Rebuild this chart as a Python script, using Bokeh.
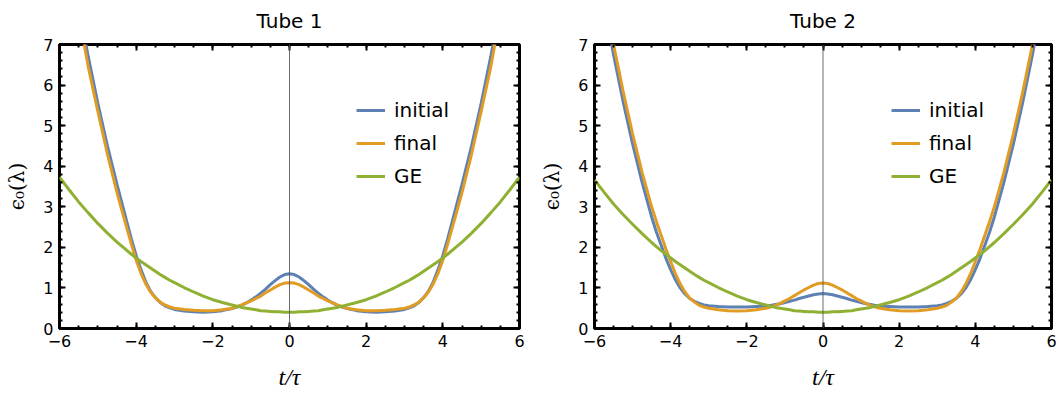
from bokeh.plotting import figure
from bokeh.models import (Span, Legend, LegendItem, FixedTicker, LinearAxis, Range1d,
                          CustomLabelingPolicy)
from bokeh.layouts import row
from bokeh.embed import file_html
from bokeh.resources import INLINE

# time grid t/tau (denser where the curves bend)
t = [-6, -5.75, -5.5, -5.25, -5, -4.75, -4.5, -4.375, -4.25, -4.125, -4, -3.875,
     -3.75, -3.625, -3.5, -3.375, -3.25, -3.125, -3, -2.75, -2.5, -2.25, -2, -1.75,
     -1.5, -1.375, -1.25, -1.125, -1, -0.875, -0.75, -0.625, -0.5, -0.375, -0.25,
     -0.125, 0,
     0.125, 0.25, 0.375, 0.5, 0.625, 0.75, 0.875, 1, 1.125, 1.25, 1.375, 1.5,
     1.75, 2, 2.25, 2.5, 2.75, 3, 3.125, 3.25, 3.375, 3.5, 3.625, 3.75, 3.875,
     4, 4.125, 4.25, 4.375, 4.5, 4.75, 5, 5.25, 5.5, 5.75, 6]

# Tube 1
initial1 = [10.8, 9.3, 7.95, 6.7, 5.55, 4.5, 3.55, 3.1, 2.65, 2.21, 1.8, 1.45,
            1.15, 0.92, 0.76, 0.64, 0.56, 0.51, 0.47, 0.43, 0.41, 0.40, 0.41, 0.44,
            0.49, 0.53, 0.57, 0.63, 0.70, 0.78, 0.87, 0.97, 1.08, 1.18, 1.27,
            1.33, 1.35,
            1.33, 1.27, 1.18, 1.08, 0.97, 0.87, 0.78, 0.70, 0.63, 0.57, 0.53, 0.49,
            0.44, 0.41, 0.40, 0.41, 0.43, 0.47, 0.51, 0.56, 0.64, 0.76, 0.92, 1.15, 1.45,
            1.8, 2.21, 2.65, 3.1, 3.55, 4.5, 5.55, 6.7, 7.95, 9.3, 10.8]
final1 = [10.6, 9.1, 7.75, 6.45, 5.35, 4.3, 3.35, 2.92, 2.5, 2.08, 1.68, 1.36,
          1.1, 0.9, 0.76, 0.65, 0.58, 0.53, 0.50, 0.47, 0.45, 0.44, 0.44, 0.46,
          0.50, 0.54, 0.58, 0.63, 0.68, 0.74, 0.80, 0.88, 0.95, 1.02, 1.08,
          1.12, 1.13,
          1.12, 1.08, 1.02, 0.95, 0.88, 0.80, 0.74, 0.68, 0.63, 0.58, 0.54, 0.50,
          0.46, 0.44, 0.44, 0.45, 0.47, 0.50, 0.53, 0.58, 0.65, 0.76, 0.9, 1.1, 1.36,
          1.68, 2.08, 2.5, 2.92, 3.35, 4.3, 5.35, 6.45, 7.75, 9.1, 10.6]
ge1 = [3.73, 3.42, 3.12, 2.85, 2.59, 2.35, 2.13, 2.03, 1.93, 1.83, 1.74, 1.65,
       1.57, 1.49, 1.41, 1.33, 1.26, 1.19, 1.13, 1.01, 0.90, 0.80, 0.71, 0.64,
       0.58, 0.55, 0.52, 0.50, 0.48, 0.46, 0.44, 0.43, 0.42, 0.41, 0.41,
       0.40, 0.40,
       0.40, 0.41, 0.41, 0.42, 0.43, 0.44, 0.46, 0.48, 0.50, 0.52, 0.55, 0.58,
       0.64, 0.71, 0.80, 0.90, 1.01, 1.13, 1.19, 1.26, 1.33, 1.41, 1.49, 1.57, 1.65,
       1.74, 1.83, 1.93, 2.03, 2.13, 2.35, 2.59, 2.85, 3.12, 3.42, 3.73]

# Tube 2
initial2 = [9.4, 8.0, 6.75, 5.6, 4.55, 3.6, 2.75, 2.38, 2.05, 1.73, 1.45, 1.2,
            1.0, 0.85, 0.74, 0.67, 0.62, 0.58, 0.56, 0.54, 0.53, 0.53, 0.53, 0.54,
            0.55, 0.57, 0.59, 0.61, 0.64, 0.67, 0.70, 0.74, 0.77, 0.80, 0.83,
            0.85, 0.86,
            0.85, 0.83, 0.80, 0.77, 0.74, 0.70, 0.67, 0.64, 0.61, 0.59, 0.57, 0.55,
            0.54, 0.53, 0.53, 0.53, 0.54, 0.56, 0.58, 0.62, 0.67, 0.74, 0.85, 1.0, 1.2,
            1.45, 1.73, 2.05, 2.38, 2.75, 3.6, 4.55, 5.6, 6.75, 8.0, 9.4]
final2 = [9.9, 8.4, 7.0, 5.85, 4.8, 3.85, 3.0, 2.64, 2.3, 1.96, 1.65, 1.35,
          1.1, 0.9, 0.75, 0.65, 0.57, 0.53, 0.50, 0.46, 0.44, 0.43, 0.44, 0.46,
          0.50, 0.53, 0.57, 0.62, 0.68, 0.74, 0.81, 0.88, 0.95, 1.01, 1.07,
          1.11, 1.12,
          1.11, 1.07, 1.01, 0.95, 0.88, 0.81, 0.74, 0.68, 0.62, 0.57, 0.53, 0.50,
          0.46, 0.44, 0.43, 0.44, 0.46, 0.50, 0.53, 0.57, 0.65, 0.75, 0.9, 1.1, 1.35,
          1.65, 1.96, 2.3, 2.64, 3.0, 3.85, 4.8, 5.85, 7.0, 8.4, 9.9]
ge2 = [3.66, 3.36, 3.07, 2.81, 2.57, 2.34, 2.12, 2.02, 1.92, 1.83, 1.74, 1.65,
       1.57, 1.49, 1.41, 1.33, 1.26, 1.19, 1.13, 1.01, 0.90, 0.80, 0.71, 0.64,
       0.58, 0.55, 0.52, 0.50, 0.48, 0.46, 0.44, 0.43, 0.42, 0.41, 0.41,
       0.40, 0.40,
       0.40, 0.41, 0.41, 0.42, 0.43, 0.44, 0.46, 0.48, 0.50, 0.52, 0.55, 0.58,
       0.64, 0.71, 0.80, 0.90, 1.01, 1.13, 1.19, 1.26, 1.33, 1.41, 1.49, 1.57, 1.65,
       1.74, 1.83, 1.92, 2.02, 2.12, 2.34, 2.57, 2.81, 3.07, 3.36, 3.66]

titles = ["Tube 1", "Tube 2"]
series_names = ["initial", "final", "GE"]
colors = ["#5E81B5", "#E19C24", "#8FB032"]
x_ticks = [-6, -4, -2, 0, 2, 4, 6]
y_ticks = [0, 1, 2, 3, 4, 5, 6, 7]

x_minor = [v / 2 for v in range(-12, 13)]
y_minor = [v / 5 for v in range(0, 36)]
x_labels = {v: (str(v) if v >= 0 else "\u2212" + str(-v)) for v in x_ticks}

FONT = "DejaVu Sans"


def style_axis(ax, show_labels):
    ax.axis_line_color = None
    ax.major_tick_in = 6
    ax.major_tick_out = 0
    ax.minor_tick_in = 3
    ax.minor_tick_out = 0
    ax.major_tick_line_width = 2
    ax.minor_tick_line_width = 2
    ax.major_tick_line_color = "black"
    ax.minor_tick_line_color = "black"
    if show_labels:
        ax.major_label_text_font = FONT
        ax.major_label_text_font_size = "16px"
        ax.major_label_text_color = "black"
        ax.major_label_standoff = 6
    else:
        ax.major_label_policy = CustomLabelingPolicy(code="return new Set()")
        ax.major_label_text_font_size = "8px"
        ax.major_label_standoff = 0


def make(title, ys, width, bl, br):
    p = figure(width=width, height=398, x_range=Range1d(-6, 6), y_range=Range1d(0, 7),
               output_backend="svg", toolbar_location=None,
               min_border_left=bl, min_border_right=br,
               min_border_top=44, min_border_bottom=70)
    p.title.text = title
    p.title.align = "center"
    p.title.text_font = FONT
    p.title.text_font_size = "20px"
    p.title.text_font_style = "normal"
    p.title.text_color = "black"
    p.title.standoff = 8
    p.xgrid.visible = False
    p.ygrid.visible = False
    p.outline_line_color = "black"
    p.outline_line_width = 3
    p.background_fill_color = "white"

    p.xaxis.ticker = FixedTicker(ticks=x_ticks, minor_ticks=x_minor)
    p.yaxis.ticker = FixedTicker(ticks=y_ticks, minor_ticks=y_minor)
    p.xaxis.major_label_overrides = x_labels
    style_axis(p.xaxis[0], True)
    style_axis(p.yaxis[0], True)
    p.xaxis.axis_label = "t/\u03c4"
    p.xaxis.axis_label_text_font = "Liberation Serif"
    p.xaxis.axis_label_text_font_style = "italic"
    p.xaxis.axis_label_text_font_size = "24px"
    p.xaxis.axis_label_text_color = "black"
    p.xaxis.axis_label_standoff = 14
    p.yaxis.axis_label = "\u03f5\u2080(\u03bb)"
    p.yaxis.axis_label_text_font = "DejaVu Serif"
    p.yaxis.axis_label_text_font_style = "normal"
    p.yaxis.axis_label_text_font_size = "20px"
    p.yaxis.axis_label_text_color = "black"
    p.yaxis.axis_label_standoff = 11

    top = LinearAxis(ticker=FixedTicker(ticks=x_ticks, minor_ticks=x_minor))
    style_axis(top, False)
    p.add_layout(top, "above")
    right = LinearAxis(ticker=FixedTicker(ticks=y_ticks, minor_ticks=y_minor))
    style_axis(right, False)
    p.add_layout(right, "right")

    rs = []
    for y, c in zip(ys, colors):
        rs.append(p.line(t, y, line_color=c, line_width=3))

    p.add_layout(Span(location=0, dimension="height", line_color="#555555",
                      line_width=1, line_alpha=0.85))

    legend = Legend(items=[LegendItem(label=n, renderers=[r]) for n, r in zip(series_names, rs)],
                    location=(297, 140), orientation="vertical",
                    border_line_color=None, background_fill_alpha=0,
                    label_text_font=FONT, label_text_font_size="20px",
                    label_text_color="black",
                    glyph_width=29, glyph_height=20, label_height=20,
                    spacing=9, padding=0, margin=0, label_standoff=9)
    p.add_layout(legend)
    return p


p1 = make(titles[0], [initial1, final1, ge1], 537, 59, 18)
p2 = make(titles[1], [initial2, final2, ge2], 522, 55, 8)
layout = row(p1, p2)

open("out.html", "w").write(file_html(layout, INLINE))
